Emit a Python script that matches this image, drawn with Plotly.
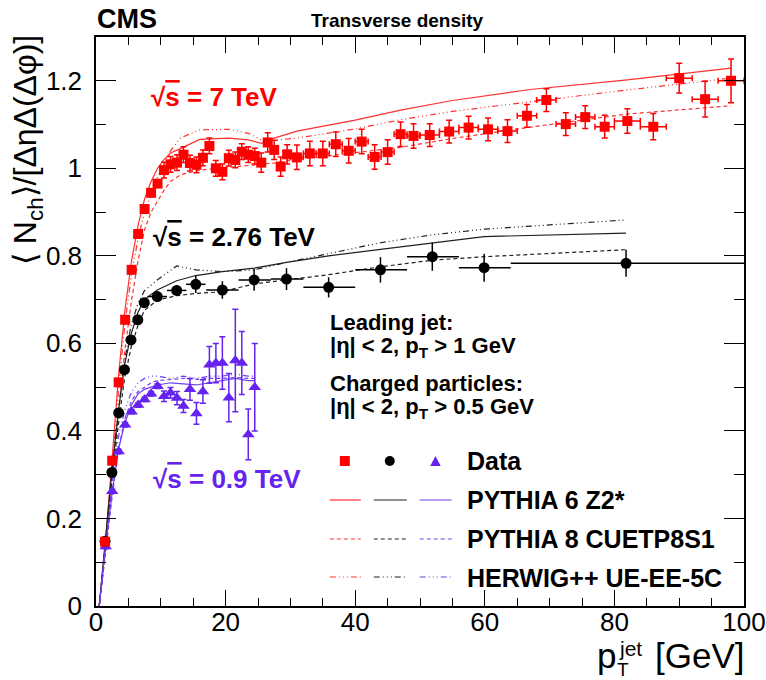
import plotly.graph_objects as go

# ---------------- data ----------------
# sqrt(s) = 7 TeV
x7 = [1.4] + [i + 0.5 for i in range(2, 30)] + [31, 33, 35, 37, 39, 41, 43, 45, 47, 49] \
     + [51.5, 54.5, 57.5, 60.5, 63.5, 66.5, 69.5, 72.5, 75.5, 78.5] + [82, 86, 90, 94, 98]
y7 = [0.147, 0.332, 0.511, 0.654, 0.768, 0.850, 0.907, 0.944, 0.965, 0.996,
      1.009, 1.013, 1.031, 1.012, 1.008, 1.024, 1.051, 1.000, 0.992, 1.023,
      1.019, 1.038, 1.031, 1.028, 1.013, 1.059, 1.042, 1.004, 1.032,
      1.025, 1.034, 1.034, 1.055, 1.040, 1.061, 1.026, 1.037, 1.078, 1.074,
      1.076, 1.084, 1.093, 1.089, 1.085, 1.120, 1.156, 1.101, 1.117, 1.095,
      1.108, 1.095, 1.206, 1.158, 1.200]
ex7 = [0.5] * 29 + [1.0] * 10 + [1.5] * 10 + [2.0] * 5
ey7 = [0.008] * 9 + [0.018] * 15 + [0.022] * 5 + [0.028] * 10 + [0.026] * 10 + [0.028, 0.030, 0.034, 0.041, 0.050]

# sqrt(s) = 2.76 TeV
x276 = [1.4, 2.45, 3.5, 4.4, 5.4, 6.45, 7.45, 9.45, 12.45, 15.4, 19.5, 24.4, 29.4, 35.9, 43.9, 51.9, 59.9, 81.8]
y276 = [0.148, 0.305, 0.441, 0.540, 0.608, 0.654, 0.693, 0.707, 0.721, 0.735, 0.722, 0.745, 0.747, 0.728, 0.768, 0.798, 0.773, 0.783]
ex276m = [0.5] * 7 + [1.5, 1.5, 1.5, 2.5, 2.4, 2.4, 3.9, 3.9, 3.9, 3.9, 17.8]
ex276p = [0.5] * 7 + [1.5, 1.5, 1.5, 2.5, 2.6, 2.6, 4.1, 4.1, 4.1, 4.1, 18.2]
ey276 = [0.005] * 7 + [0.010, 0.012, 0.020, 0.020, 0.025, 0.025, 0.023, 0.029, 0.032, 0.032, 0.031]

# sqrt(s) = 0.9 TeV
x09 = [i + 0.5 for i in range(1, 25)]
y09 = [0.136, 0.262, 0.353, 0.414, 0.444, 0.459, 0.472, 0.485, 0.502, 0.479,
       0.487, 0.475, 0.457, 0.495, 0.440, 0.490, 0.551, 0.555, 0.555, 0.476,
       0.561, 0.555, 0.392, 0.500]
ey09 = [0.005] * 9 + [0.012, 0.012, 0.015, 0.015, 0.025, 0.025, 0.027, 0.042, 0.045, 0.060, 0.055, 0.117, 0.072, 0.058, 0.100]
ex09 = [0.5] * 24

# models, 7 TeV
xm7 = [0.5, 1.5, 2.5, 3.5, 4.5, 5.5, 6.5, 7.5, 8.5, 9.5, 10.5, 11.5, 13, 16, 20.5, 23.5, 25.5, 27.5, 31, 40, 47, 55, 67, 82, 98]
p6_7 = [0.0, 0.15, 0.34, 0.53, 0.68, 0.79, 0.87, 0.93, 0.97, 1.00, 1.02, 1.035, 1.045, 1.066, 1.069, 1.065, 1.057, 1.069, 1.085, 1.110, 1.133, 1.155, 1.180, 1.202, 1.229]
p8_7 = [0.0, 0.13, 0.29, 0.45, 0.59, 0.70, 0.79, 0.86, 0.90, 0.925, 0.95, 0.97, 0.985, 0.996, 1.002, 1.006, 1.008, 1.012, 1.020, 1.035, 1.048, 1.068, 1.094, 1.124, 1.143]
hw_7 = [0.0, 0.13, 0.31, 0.50, 0.65, 0.76, 0.84, 0.90, 0.94, 0.98, 1.01, 1.04, 1.069, 1.088, 1.089, 1.080, 1.065, 1.064, 1.069, 1.090, 1.111, 1.130, 1.152, 1.179, 1.206]

# models, 2.76 TeV
xm276 = [0.5] + x276
p6_276 = [0.0, 0.15, 0.31, 0.45, 0.55, 0.62, 0.67, 0.70, 0.722, 0.743, 0.755, 0.764, 0.772, 0.785, 0.800, 0.815, 0.830, 0.844, 0.852]
p8_276 = [0.0, 0.14, 0.29, 0.42, 0.52, 0.59, 0.64, 0.675, 0.699, 0.709, 0.714, 0.718, 0.736, 0.745, 0.757, 0.775, 0.790, 0.798, 0.814]
hw_276 = [0.0, 0.14, 0.30, 0.45, 0.56, 0.64, 0.69, 0.72, 0.745, 0.777, 0.768, 0.764, 0.768, 0.785, 0.805, 0.830, 0.848, 0.861, 0.882]

# models, 0.9 TeV
xm09 = [0.5, 1.5, 2.5, 3.5, 4.5, 5.5, 6.5, 7.5, 8.5, 9.5, 11.5, 13.5, 15.5, 17.5, 19.5, 21.5, 23.5, 24.5]
p6_09 = [0.0, 0.14, 0.26, 0.36, 0.42, 0.46, 0.485, 0.495, 0.500, 0.505, 0.510, 0.508, 0.505, 0.510, 0.515, 0.520, 0.515, 0.515]
p8_09 = [0.0, 0.13, 0.25, 0.36, 0.43, 0.47, 0.490, 0.500, 0.510, 0.515, 0.518, 0.520, 0.518, 0.520, 0.520, 0.522, 0.520, 0.520]
hw_09 = [0.0, 0.14, 0.28, 0.39, 0.45, 0.49, 0.510, 0.520, 0.525, 0.525, 0.520, 0.525, 0.520, 0.525, 0.525, 0.530, 0.525, 0.525]

RED, BLACK, VIOLET = "#ff0000", "#000000", "#6622ee"
RED_L, BLACK_L, VIOLET_L = "#ff3030", "#202020", "#7040f0"
FONT = "Liberation Sans, Arial, Helvetica, sans-serif"
DASH_P8 = "4px,3px"
DASH_HW = "6px,3px,1px,3px,1px,3px,1px,3px"

fig = go.Figure()

def model(x, y, color, dash):
    fig.add_trace(go.Scatter(x=x, y=y, mode="lines", showlegend=False, hoverinfo="skip",
                             line=dict(color=color, width=1.2, dash=dash)))

for (x, ys, c) in [(xm7, [p6_7, p8_7, hw_7], RED_L), (xm276, [p6_276, p8_276, hw_276], BLACK_L),
                   (xm09, [p6_09, p8_09, hw_09], VIOLET_L)]:
    model(x, ys[0], c, "solid")
    model(x, ys[1], c, DASH_P8)
    model(x, ys[2], c, DASH_HW)

fig.add_trace(go.Scatter(x=x09, y=y09, mode="markers", showlegend=False,
                         marker=dict(symbol="triangle-up", size=11, color=VIOLET),
                         error_y=dict(type="data", array=ey09, color=VIOLET, thickness=1.5, width=3),
                         error_x=dict(type="data", array=ex09, color=VIOLET, thickness=1.5, width=0)))
fig.add_trace(go.Scatter(x=x276, y=y276, mode="markers", showlegend=False,
                         marker=dict(symbol="circle", size=11, color=BLACK),
                         error_y=dict(type="data", array=ey276, color=BLACK, thickness=1.5, width=0),
                         error_x=dict(type="data", array=ex276p, arrayminus=ex276m, color=BLACK, thickness=1.5, width=0)))
fig.add_trace(go.Scatter(x=x7, y=y7, mode="markers", showlegend=False,
                         marker=dict(symbol="square", size=10, color=RED),
                         error_y=dict(type="data", array=ey7, color=RED, thickness=1.5, width=3),
                         error_x=dict(type="data", array=ex7, color=RED, thickness=1.5, width=3)))

# ---------------- layout geometry ----------------
L, R, T, B = 96, 744.5, 37, 606
W, H = 766, 680
def px(x): return (x - L) / (R - L)
def py(y): return (B - y) / (B - T)

ann = []
def text(s, x, y, size, color="black", xanchor="left", yanchor="middle", angle=0):
    ann.append(dict(text=s, x=px(x), y=py(y), xref="paper", yref="paper", showarrow=False,
                    xanchor=xanchor, yanchor=yanchor, textangle=angle, borderpad=0,
                    font=dict(family=FONT, size=size, color=color)))

SQ = '√<span style="text-decoration:overline">s</span>'
text("<b>CMS</b>", 96, 19, 27)
text("<b>Transverse density</b>", 398, 20, 19, xanchor="center")
text("<b>%s = 7 TeV</b>" % SQ, 150, 97, 26, RED)
text("<b>%s = 2.76 TeV</b>" % SQ, 152, 237, 26, BLACK)
text("<b>%s = 0.9 TeV</b>" % SQ, 152, 479, 26, VIOLET)
text("<b>Leading jet:</b>", 329, 322, 22)
text("<b>|η| &lt; 2, p<sub>T</sub> &gt; 1 GeV</b>", 329, 347, 22)
text("<b>Charged particles:</b>", 329, 383, 22)
text("<b>|η| &lt; 2, p<sub>T</sub> &gt; 0.5 GeV</b>", 329, 408, 22)
text("<b>Data</b>", 466, 461, 25)
text("<b>PYTHIA 6 Z2*</b>", 466, 500, 25)
text("<b>PYTHIA 8 CUETP8S1</b>", 466, 539, 25)
text("<b>HERWIG++ UE-EE-5C</b>", 466, 578, 25)
# axis titles
text("⟨ N<sub>ch</sub>⟩/[ΔηΔ(Δφ)]", 28, 34, 32, xanchor="center", yanchor="top", angle=-90)
text("p", 596, 655, 35)
text("jet", 618, 648, 21)
text("T", 616, 681, 19, yanchor="bottom")
text("[GeV]", 746, 655, 35, xanchor="right")

shapes = []
def hline(x0, x1, y, color, dash):
    shapes.append(dict(type="line", xref="paper", yref="paper", x0=px(x0), x1=px(x1), y0=py(y), y1=py(y),
                       line=dict(color=color, width=1.2, dash=dash)))
for y, d in [(500, "solid"), (539, DASH_P8), (577, DASH_HW)]:
    hline(330, 361, y, RED_L, d)
    hline(374, 407, y, BLACK_L, d)
    hline(420, 452, y, VIOLET_L, d)
shapes.append(dict(type="rect", xref="paper", yref="paper", x0=px(340), x1=px(350), y0=py(466), y1=py(456),
                   fillcolor=RED, line=dict(width=0)))
shapes.append(dict(type="circle", xref="paper", yref="paper", x0=px(385), x1=px(395), y0=py(466), y1=py(456),
                   fillcolor=BLACK, line=dict(width=0)))
shapes.append(dict(type="path", xref="paper", yref="paper",
                   path="M %f %f L %f %f L %f %f Z" % (px(430.5), py(466), px(441), py(466), px(435.7), py(456)),
                   fillcolor=VIOLET, line=dict(width=0)))

axis_common = dict(showline=True, linecolor="black", linewidth=1.5, mirror="allticks", ticks="inside",
                   tickwidth=1.2, tickcolor="black", showgrid=False, zeroline=False, automargin=False,
                   tickfont=dict(family=FONT, size=26, color="black"))
fig.update_layout(
    width=W, height=H, margin=dict(l=L, r=W - R, t=T, b=H - B, autoexpand=False),
    paper_bgcolor="white", plot_bgcolor="white",
    xaxis=dict(range=[0, 100], dtick=20, ticklen=16, ticklabelstandoff=-8,
               minor=dict(dtick=5, ticklen=8, ticks="inside", tickwidth=1.2, tickcolor="black", showgrid=False),
               **axis_common),
    yaxis=dict(range=[0, 1.3], dtick=0.2, ticklen=20, ticklabelstandoff=7,
               minor=dict(dtick=0.1, ticklen=10, ticks="inside", tickwidth=1.2, tickcolor="black", showgrid=False),
               **axis_common),
    annotations=ann, shapes=shapes,
)
fig.write_html("out.html")
